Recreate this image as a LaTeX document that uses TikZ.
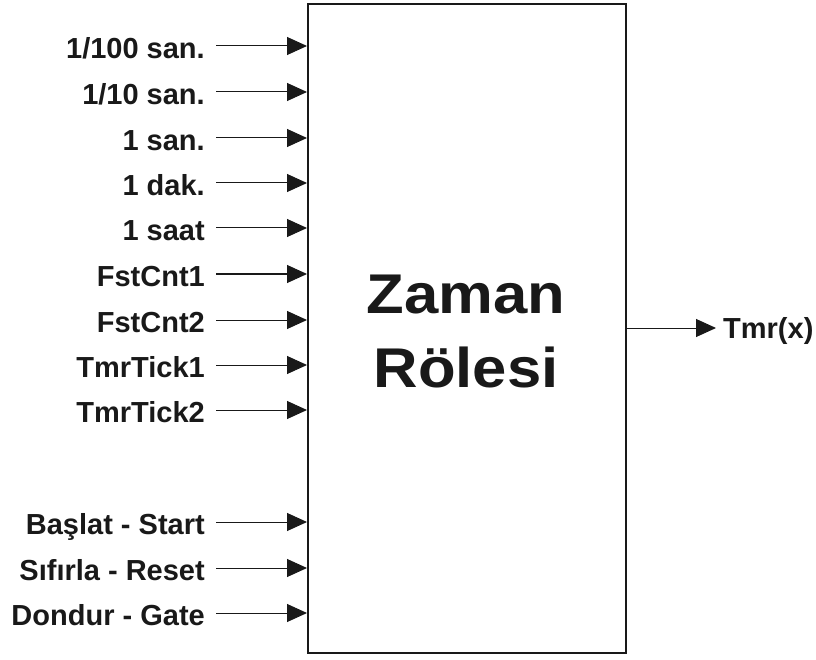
\documentclass[tikz,border=0pt]{standalone}
\usepackage{fontspec}
\setmainfont{Liberation Sans}
\newfontfamily\bigfont{Liberation Sans}[FakeStretch=1.1]
\usetikzlibrary{arrows.meta}
\tikzset{
  lab/.style={anchor=base east, inner sep=0pt, font=\fontsize{29}{32}\selectfont\bfseries, text=black!90},
  sig/.style={line width=1pt, -{Triangle[length=20pt,width=18pt]}, black!90},
  blk/.style={draw=black!90, line width=2pt, minimum width=318pt, minimum height=649pt, anchor=north west, inner sep=0pt},
}
\begin{document}
\begin{tikzpicture}[x=1pt,y=-1pt]
\useasboundingbox (0,0) rectangle (816,660);
\node[blk] (box) at (307,3) {};
\node[anchor=base, inner sep=0pt, font=\bigfont\fontsize{56}{74}\selectfont\bfseries, text=black!90, align=center] (title) at (466,387) {Zaman\\Rölesi};
\foreach \n/\y/\t in {a/46/{1/100 san.}, b/92/{1/10 san.}, c/138/{1 san.}, d/183/{1 dak.}, e/228/{1 saat\ }, f/274/{FstCnt1}, g/320/{FstCnt2}, h/365/{TmrTick1}, i/410/{TmrTick2}, j/522/{Başlat - Start}, k/568/{Sıfırla - Reset}, l/613/{Dondur - Gate}}{
  \node[lab] (L\n) at (205,\y+12.5) {\t};
  \coordinate (S\n) at (216,\y);
  \draw[sig] (S\n) -- (box.west |- S\n);
}
\coordinate (out) at (716,328);
\draw[sig] (box.east |- out) -- (out);
\node[anchor=base west, inner sep=0pt, font=\fontsize{29}{32}\selectfont\bfseries, text=black!90] (tmr) at (723,338) {Tmr(x)};
\end{tikzpicture}
\end{document}
